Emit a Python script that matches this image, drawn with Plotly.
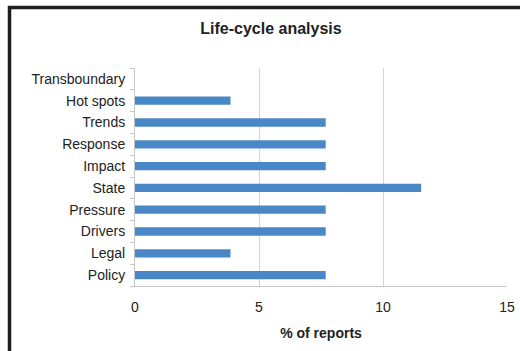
import plotly.graph_objects as go

# Share of reports covering each life-cycle element (bottom to top)
categories = ["Policy", "Legal", "Drivers", "Pressure", "State",
              "Impact", "Response", "Trends", "Hot spots", "Transboundary"]
percent_of_reports = [7.69, 3.85, 7.69, 7.69, 11.54,
                      7.69, 7.69, 7.69, 3.85, 0.0]
x_ticks = [0, 5, 10, 15]

W, H = 520, 351
L, R, T, B = 135, 13, 68, 65
pw, ph = W - L - R, H - T - B

def px_x(p):
    return (p - L) / pw

def px_y(p):
    return (H - B - p) / ph

fig = go.Figure(go.Bar(
    x=percent_of_reports,
    y=categories,
    orientation="h",
    marker=dict(color="#4a87c6", line=dict(width=0)),
))

fig.update_layout(
    width=W, height=H,
    margin=dict(l=L, r=R, t=T, b=B, autoexpand=False),
    paper_bgcolor="white",
    plot_bgcolor="white",
    bargap=0.62,
    showlegend=False,
    font=dict(family="Liberation Sans, Arial, sans-serif", size=14, color="#222222"),
    title=dict(text="<b>Life-cycle analysis</b>", x=271 / W, xanchor="center",
               y=1 - 28 / H, yanchor="middle",
               font=dict(size=16, color="#222222")),
    xaxis=dict(
        range=[0, 15], tickvals=x_ticks, ticktext=[str(v) for v in x_ticks],
        automargin=False,
        showgrid=True, gridcolor="#d4d4d4", gridwidth=1,
        showline=True, linecolor="#c8c8c8", linewidth=1,
        zeroline=False, ticks="", ticklabelstandoff=8,
        title=dict(text="<b>% of reports</b>", font=dict(size=14), standoff=14),
    ),
    yaxis=dict(
        categoryorder="array", categoryarray=categories,
        automargin=False,
        showgrid=False, zeroline=False,
        showline=True, linecolor="#c8c8c8", linewidth=1,
        ticks="outside", tickson="boundaries", ticklen=4, tickcolor="#c8c8c8",
        ticklabelstandoff=6,
    ),
    shapes=[
        # dark frame edges on the left and top
        dict(type="line", xref="paper", yref="paper",
             x0=px_x(9.5), x1=px_x(9.5), y0=px_y(6), y1=px_y(H + 2),
             line=dict(color="#1e1e1e", width=3.5)),
        dict(type="line", xref="paper", yref="paper",
             x0=px_x(8), x1=px_x(W + 2), y0=px_y(7.5), y1=px_y(7.5),
             line=dict(color="#1e1e1e", width=3.5)),
    ],
)

fig.write_html("out.html")
